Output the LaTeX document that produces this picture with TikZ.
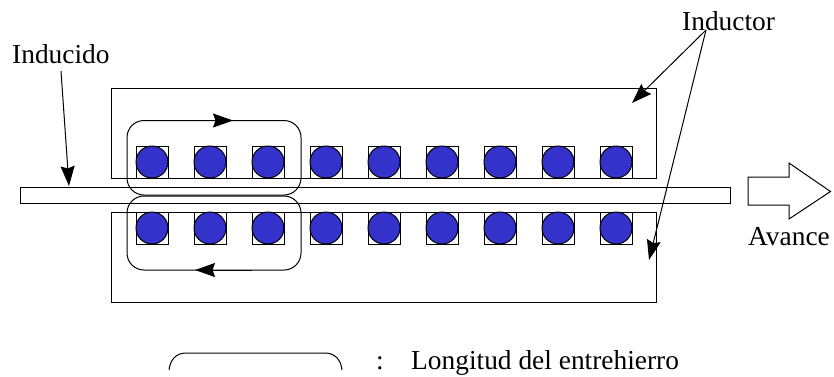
\documentclass[tikz,border=0pt]{standalone}
\usepackage{fontspec}
\setmainfont{Liberation Serif}
\usetikzlibrary{arrows.meta}
\tikzset{
  x=1pt,y=-1pt,
  line/.style={draw=black,line width=1pt},
  loopline/.style={line,rounded corners=17pt},
  leader/.style={draw=black,line width=1pt,-{Stealth[length=20pt,width=14pt,inset=2.5pt]}},
  lab/.style={inner sep=0pt,font=\fontsize{27.4}{30}\selectfont,text=black},
  slotbox/.style={line},
  pole/.style={draw=black,line width=1pt,fill=coilblue}
}
\definecolor{coilblue}{HTML}{3333CC}
\begin{document}
\begin{tikzpicture}
\useasboundingbox (0,0) rectangle (834,376);
\draw[line] (111,88) rectangle (656,178);
\draw[line] (111,212) rectangle (656,302);
\foreach \cx in {152,210,268,326,384,442,500,558,616}{
  \draw[slotbox] (\cx-16,146) rectangle (\cx+16,178);
  \draw[slotbox] (\cx-16,212) rectangle (\cx+16,244);
  \draw[pole] (\cx,162) circle (16);
  \draw[pole] (\cx,228) circle (16);
}
\draw[line] (20,187.5) rectangle (730,203);
\draw[loopline] (127,120.5) rectangle (301,195);
\draw[loopline] (127,196) rectangle (301,270);
\coordinate (upS) at (176,120.5);
\coordinate (upE) at (233,120.5);
\coordinate (loS) at (252,270);
\coordinate (loE) at (195,270);
\draw[leader] (upS) -- (upE);
\draw[leader] (loS) -- (loE);
\draw[line] (748,177) -- (789,177) -- (789,163) -- (830.5,191.5) -- (789,219) -- (789,205) -- (748,205) -- cycle;
\node[lab,anchor=base west] (inducido) at (12,63) {Inducido};
\node[lab,anchor=base west] (inductor) at (682,30) {Inductor};
\node[lab,anchor=base west] (avance) at (748,245) {Avance};
\node[lab,anchor=base west] (colon) at (376,369) {:};
\node[lab,anchor=base west] (legend) at (411,369) {Longitud del entrehierro};
\coordinate (indS) at (61,71);
\coordinate (indT) at (69,186);
\coordinate (iS) at (706,30);
\coordinate (iT1) at (632,103);
\coordinate (iT2) at (649,260);
\draw[leader] (indS) -- (indT);
\draw[leader] (iS) -- (iT1);
\draw[leader] (iS) -- (iT2);
\draw[line] (169,370) .. controls (170,360) and (176,353) .. (186,353) -- (325,353) .. controls (335,353) and (341,360) .. (342,370);
\end{tikzpicture}
\end{document}
